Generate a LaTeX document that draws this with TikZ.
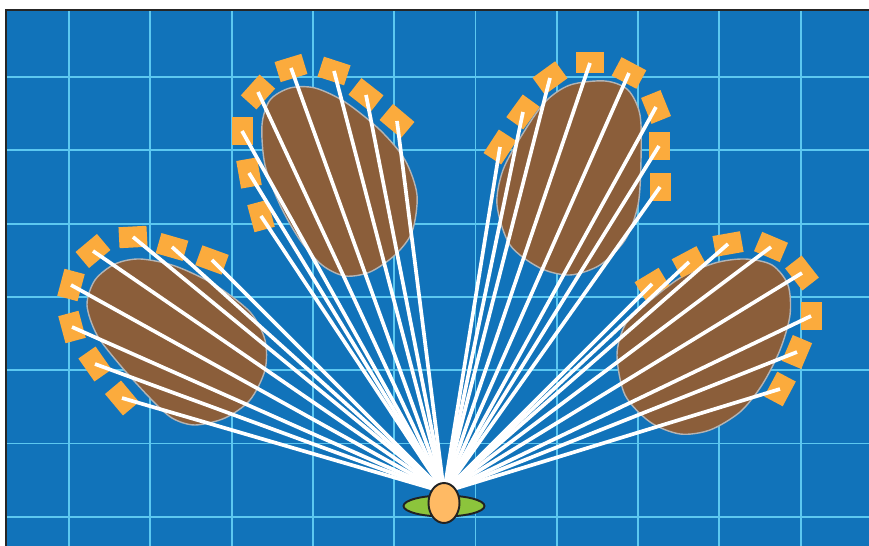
\documentclass[tikz,border=0pt]{standalone}
\usepackage{tikz}
\usepackage{xcolor}
\usetikzlibrary{shapes.geometric, calc}
\definecolor{seablue}    {HTML}{1173BA}
\definecolor{gridcyan}   {HTML}{5CC8F0}
\definecolor{framegray}  {HTML}{262626}
\definecolor{soilbrown}  {HTML}{8B5E3A}
\definecolor{soiledge}   {HTML}{B4B4B4}
\definecolor{padorange}  {HTML}{FBAB3D}
\definecolor{budfill}    {HTML}{FFBA64}
\definecolor{leafgreen}  {HTML}{8CC43C}
\definecolor{inkdark}    {HTML}{222222}
\tikzset{
  gridline/.style={draw=gridcyan, line width=1.1pt},
  blobshape/.style={fill=soilbrown, draw=soiledge, line width=0.8pt},
  padbox/.style={rectangle, fill=padorange, minimum width=0.56cm,
    minimum height=0.42cm, inner sep=0pt},
  rayline/.style={draw=white, line width=2.1pt},
  leafshape/.style={ellipse, fill=leafgreen, draw=inkdark, line width=1.1pt,
    minimum width=1.62cm, minimum height=0.42cm, inner sep=0pt},
  budshape/.style={ellipse, fill=budfill, draw=inkdark, line width=1.1pt,
    minimum width=0.62cm, minimum height=0.8cm, inner sep=0pt}
}

\begin{document}
\begin{tikzpicture}[x=0.02cm, y=-0.02cm]

  \useasboundingbox (0,0) rectangle (869,546);

  %% BACKGROUND AND GRID
  \fill[seablue] (6,10) rectangle (869,546);
  \foreach \i in {0,...,9}
    \draw[gridline] ({69+81.3*\i},10) -- ({69+81.3*\i},546);
  \foreach \j in {0,...,6}
    \draw[gridline] (6,{77+73.3*\j}) -- (869,{77+73.3*\j});
  \draw[framegray, line width=1.2pt] (6,546) -- (6,10) -- (869,10);

  %% SOIL PATCHES
  \draw[blobshape] plot[smooth cycle] coordinates {
    (87,305) (95,280) (115,264) (140,259) (175,266) (215,285) (250,312)
    (265,340) (265,370) (250,400) (225,418) (195,425) (172,418) (150,398)
    (120,365) (97,335)};
  \draw[blobshape] plot[smooth cycle] coordinates {
    (262,125) (270,100) (290,88) (315,88) (345,102) (380,130) (405,160)
    (417,195) (412,232) (395,255) (370,272) (345,276) (322,265) (300,240)
    (280,205) (265,165)};
  \draw[blobshape] plot[smooth cycle] coordinates {
    (497,205) (503,170) (522,135) (545,102) (570,85) (605,81) (628,90)
    (640,115) (641,160) (638,205) (625,240) (600,265) (570,275) (540,268)
    (510,245)};
  \draw[blobshape] plot[smooth cycle] coordinates {
    (617,355) (625,325) (645,305) (680,278) (715,263) (745,259) (772,265)
    (788,285) (790,315) (780,350) (762,385) (740,412) (710,430) (680,434)
    (650,422) (625,395)};

  %% PADS
  \foreach \i/\x/\y/\a in {1/122/398/130, 2/95/364/125, 3/72/327/105,
      4/71/285/75, 5/93/251/40, 6/133/237/3, 7/172/247/-16, 8/212/260/-20}
    \node[padbox, rotate=\a] (l\i) at (\x,\y) {};
  \foreach \i/\x/\y/\a in {1/261/216/105, 2/249/173/100, 3/242/131/90,
      4/258/92/48, 5/291/68/17, 6/334/71/-18, 7/366/95/-38, 8/397/121/-40}
    \node[padbox, rotate=\a] (tl\i) at (\x,\y) {};
  \foreach \i/\x/\y/\a in {1/500/147/57, 2/523/112/54, 3/550/78/36,
      4/590/63/0, 5/629/73/-28, 6/656/107/-68, 7/659/146/90, 8/660/187/90}
    \node[padbox, rotate=\a] (tr\i) at (\x,\y) {};
  \foreach \i/\x/\y/\a in {1/652/284/31, 2/689/262/28, 3/728/244/10,
      4/771/247/-23, 5/802/273/-52, 6/811/316/90, 7/797/352/67, 8/780/389/62}
    \node[padbox, rotate=\a] (r\i) at (\x,\y) {};

  %% RAYS
  \coordinate (hub) at (444,492);
  \foreach \c in {l,tl,tr,r}
    \foreach \i in {1,...,8}
      \draw[rayline] (hub) -- (\c\i.center);

  %% SEED
  \node[leafshape] (leaf) at (444,506) {};
  \node[budshape] (bud) at (444,503) {};

\end{tikzpicture}
\end{document}
